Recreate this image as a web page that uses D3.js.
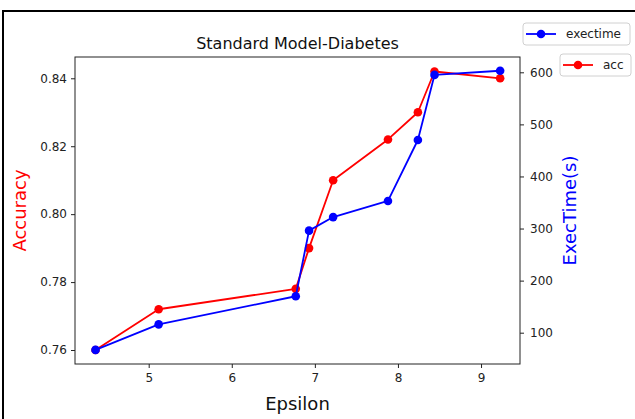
<!DOCTYPE html>
<html>
<head>
<meta charset="utf-8">
<script src="https://cdn.jsdelivr.net/npm/d3@7"></script>
<style>
  html, body { margin: 0; padding: 0; background: #fff; }
  svg { display: block; font-family: "DejaVu Sans", sans-serif; }
</style>
</head>
<body>
<svg id="chart" width="635" height="419"></svg>
<script>
// Privacy budget (epsilon) against accuracy and execution time
const epsilon  = [4.36, 5.12, 6.77, 6.93, 7.22, 7.88, 8.24, 8.44, 9.23];
const accuracy = [0.760, 0.772, 0.778, 0.790, 0.810, 0.822, 0.830, 0.842, 0.840];
const exectime = [67, 116, 170, 296, 322, 353, 470, 595, 603];

const xTicks     = [5, 6, 7, 8, 9];
const accTicks   = [0.76, 0.78, 0.80, 0.82, 0.84];
const execTicks  = [100, 200, 300, 400, 500, 600];

const svg = d3.select("#chart");

const plot = { left: 75, right: 520, top: 57, bottom: 364 };

const x = d3.scaleLinear().domain([4.113, 9.469]).range([plot.left, plot.right]);
const yAcc = d3.scaleLinear().domain([0.75588, 0.84627]).range([plot.bottom, plot.top]);
const yExec = d3.scaleLinear().domain([39.9, 629.4]).range([plot.bottom, plot.top]);

// outer frame around the figure
svg.append("path")
  .attr("d", "M3,419 L3,11 L635,11")
  .attr("fill", "none")
  .attr("stroke", "#000")
  .attr("stroke-width", 2);

// axes
const axisStyle = g => {
  g.selectAll(".domain").remove();
  g.selectAll(".tick line").attr("stroke", "#222");
  g.selectAll(".tick text").attr("fill", "#222").attr("font-size", 12)
    .attr("font-family", "DejaVu Sans, sans-serif");
};

svg.append("g")
  .attr("transform", `translate(0,${plot.bottom})`)
  .call(d3.axisBottom(x).tickValues(xTicks).tickFormat(d3.format("d")).tickSize(4).tickPadding(5))
  .call(axisStyle);

svg.append("g")
  .attr("transform", `translate(${plot.left},0)`)
  .call(d3.axisLeft(yAcc).tickValues(accTicks).tickFormat(d3.format(".2f")).tickSize(4).tickPadding(4))
  .call(axisStyle);

svg.append("g")
  .attr("transform", `translate(${plot.right},0)`)
  .call(d3.axisRight(yExec).tickValues(execTicks).tickFormat(d3.format("d")).tickSize(4).tickPadding(6))
  .call(axisStyle);

// plot frame
svg.append("rect")
  .attr("x", plot.left).attr("y", plot.top)
  .attr("width", plot.right - plot.left).attr("height", plot.bottom - plot.top)
  .attr("fill", "none").attr("stroke", "#222").attr("stroke-width", 1);

// series
const series = [
  { name: "acc", values: accuracy, y: yAcc, color: "#ff0000" },
  { name: "exectime", values: exectime, y: yExec, color: "#0000ff" }
];

series.forEach(s => {
  const pts = epsilon.map((e, i) => [e, s.values[i]]);
  const line = d3.line().x(d => x(d[0])).y(d => s.y(d[1]));
  const g = svg.append("g");
  g.append("path")
    .attr("d", line(pts))
    .attr("fill", "none")
    .attr("stroke", s.color)
    .attr("stroke-width", 1.8)
    .attr("stroke-linejoin", "round");
  g.selectAll("circle").data(pts).join("circle")
    .attr("cx", d => x(d[0]))
    .attr("cy", d => s.y(d[1]))
    .attr("r", 4.3)
    .attr("fill", s.color);
});

// title and axis labels
svg.append("text")
  .attr("x", (plot.left + plot.right) / 2).attr("y", 49)
  .attr("text-anchor", "middle")
  .attr("font-size", 16).attr("fill", "#111")
  .text("Standard Model-Diabetes");

svg.append("text")
  .attr("x", (plot.left + plot.right) / 2).attr("y", 410)
  .attr("text-anchor", "middle")
  .attr("font-size", 18).attr("fill", "#111")
  .text("Epsilon");

svg.append("text")
  .attr("transform", `translate(26,${(plot.top + plot.bottom) / 2}) rotate(-90)`)
  .attr("text-anchor", "middle")
  .attr("font-size", 18).attr("fill", "#ff0000")
  .text("Accuracy");

svg.append("text")
  .attr("transform", `translate(576,${(plot.top + plot.bottom) / 2}) rotate(-90)`)
  .attr("text-anchor", "middle")
  .attr("font-size", 18).attr("fill", "#0000ff")
  .text("ExecTime(s)");

// legends (one per axis)
const legends = [
  { label: "exectime", color: "#0000ff", x: 523, y: 23, w: 107, h: 22 },
  { label: "acc", color: "#ff0000", x: 560, y: 54, w: 71, h: 22 }
];
legends.forEach(l => {
  const g = svg.append("g").attr("transform", `translate(${l.x},${l.y})`);
  g.append("rect")
    .attr("width", l.w).attr("height", l.h).attr("rx", 3)
    .attr("fill", "#fff").attr("fill-opacity", 0.8)
    .attr("stroke", "#d0d0d0").attr("stroke-width", 1);
  g.append("line")
    .attr("x1", 3).attr("x2", 33).attr("y1", l.h / 2).attr("y2", l.h / 2)
    .attr("stroke", l.color).attr("stroke-width", 1.8);
  g.append("circle").attr("cx", 18).attr("cy", l.h / 2).attr("r", 4.3).attr("fill", l.color);
  g.append("text")
    .attr("x", 43).attr("y", l.h / 2).attr("dy", "0.35em")
    .attr("font-size", 12).attr("fill", "#222")
    .text(l.label);
});
</script>
</body>
</html>
